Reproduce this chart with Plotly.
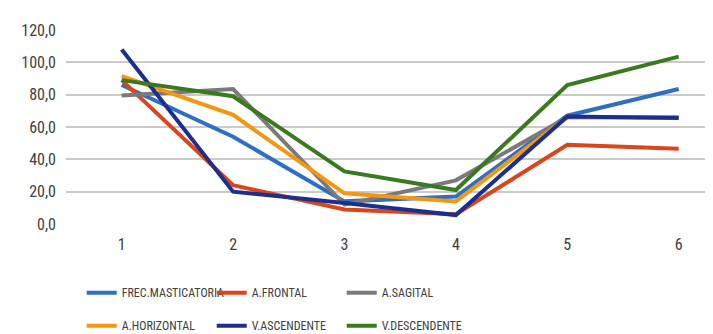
import plotly.graph_objects as go

x_labels = [1, 2, 3, 4, 5, 6]
frec_masticatoria = [86, 54, 14, 17, 67, 83.5]
a_frontal = [89, 24, 9, 6, 49, 46.5]
a_sagital = [79.5, 83.5, 12, 27, 66, 66]
a_horizontal = [91.5, 67.5, 19, 14, 66, 66]
v_ascendente = [108, 20, 13, 5.5, 66.5, 65.5]
v_descendente = [89, 79, 32.5, 21, 86, 103.5]

series = [
    ("FREC.MASTICATORIA", frec_masticatoria, "#2F6FC3", "legend"),
    ("A.FRONTAL", a_frontal, "#DC4519", "legend"),
    ("A.SAGITAL", a_sagital, "#7A7A7A", "legend"),
    ("A.HORIZONTAL", a_horizontal, "#F5960F", "legend2"),
    ("V.ASCENDENTE", v_ascendente, "#1B2F8E", "legend2"),
    ("V.DESCENDENTE", v_descendente, "#3A7A1F", "legend2"),
]

FONT = "Liberation Sans Narrow, Arial Narrow, Roboto Condensed, sans-serif"

fig = go.Figure()
for name, vals, color, leg in series:
    fig.add_trace(go.Scatter(x=x_labels, y=vals, name=name, mode="lines",
                             line=dict(color=color, width=4), legend=leg))

leg_common = dict(orientation="h", xanchor="left", yanchor="middle",
                  entrywidth=85, entrywidthmode="pixels",
                  font=dict(family=FONT, size=12, color="#404040"),
                  bgcolor="rgba(0,0,0,0)", itemwidth=30, tracegroupgap=0)

fig.update_layout(
    width=713, height=334,
    margin=dict(l=58, r=0, t=22, b=118),
    paper_bgcolor="white", plot_bgcolor="white",
    separators=",.",
    font=dict(family=FONT, size=16, color="#404040"),
    xaxis=dict(range=[0.5, 6.38], tickvals=x_labels, showgrid=False, zeroline=False,
               showline=False, ticks="", ticklabelstandoff=9,
               tickfont=dict(size=16)),
    yaxis=dict(range=[0, 120], tickvals=[0, 20, 40, 60, 80, 100, 120], tickformat=".1f",
               showgrid=True, gridcolor="#CACACA", gridwidth=2, zeroline=False,
               showline=False, ticks="", ticklabelstandoff=9, tickfont=dict(size=16)),
    legend=dict(x=0.024, y=-0.354, **leg_common),
    legend2=dict(x=0.024, y=-0.524, **leg_common),
)

fig.write_html("out.html")
